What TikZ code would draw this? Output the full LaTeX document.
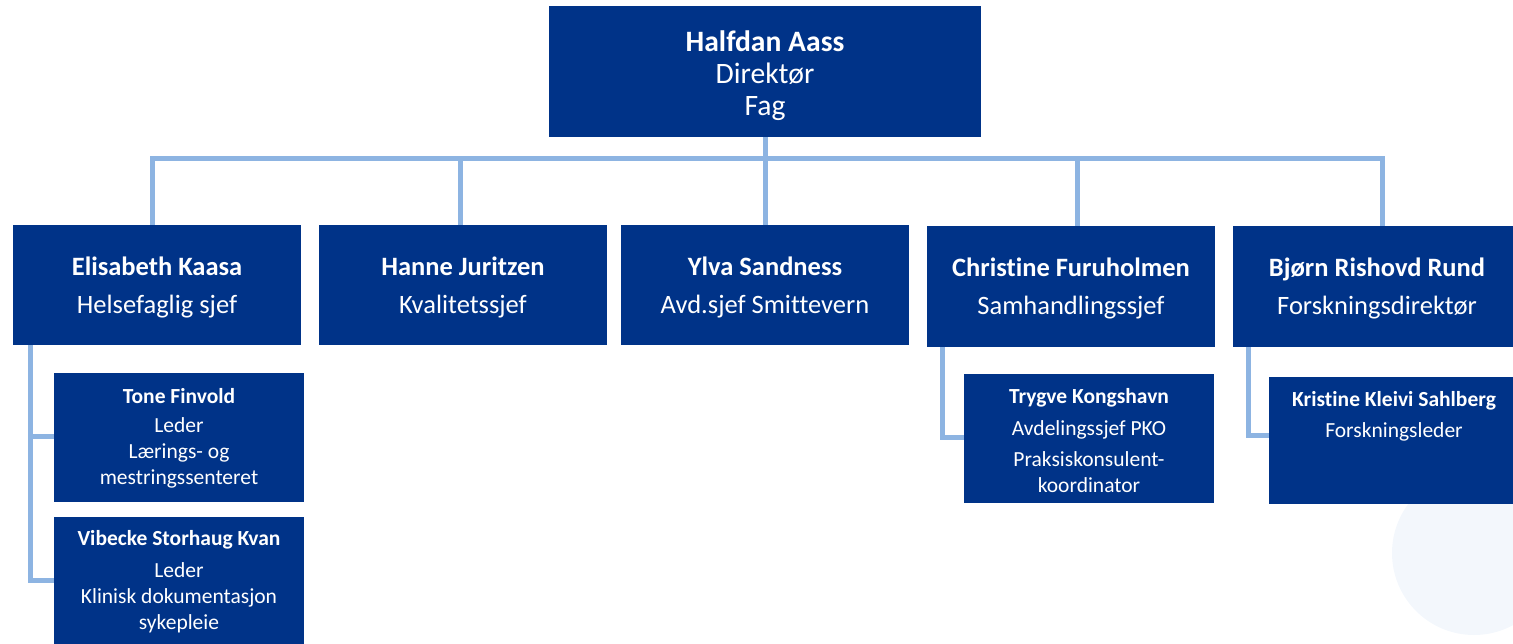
\documentclass[tikz,border=0pt]{standalone}
\usepackage{fontspec}
\setmainfont{Carlito}[Ligatures=NoCommon]
\definecolor{boxblue}{RGB}{0,51,136}
\definecolor{linkblue}{RGB}{141,180,226}
\definecolor{ghost}{RGB}{243,247,252}
\newcommand{\orglines}[1]{\begin{tabular}[t]{@{}c@{}}#1\end{tabular}}
\begin{document}
\begin{tikzpicture}[x=1pt,y=-1pt,
  orgbox/.style={rectangle, fill=boxblue, draw=none, inner sep=0pt, outer sep=0pt},
  conn/.style={draw=linkblue, line width=5pt, line join=miter},
  lbl/.style={anchor=base, inner sep=0pt, outer sep=0pt, text=white},
  toplbl/.style={lbl, font=\fontsize{29.6}{32}\selectfont},
  midlbl/.style={lbl, font=\fontsize{26.5}{38}\selectfont},
  sublbl/.style={lbl, font=\fontsize{21.5}{26}\selectfont}]
\useasboundingbox (0,0) rectangle (1513,643);
% faint background circle
\fill[ghost] (1474,553) circle[radius=82];

% boxes
\node[orgbox, minimum width=432pt, minimum height=131pt] (top) at (765,71.5) {};
\node[orgbox, minimum width=288pt, minimum height=120pt] (b1) at (157,285) {};
\node[orgbox, minimum width=288pt, minimum height=120pt] (b2) at (463,285) {};
\node[orgbox, minimum width=288pt, minimum height=120pt] (b3) at (765,285) {};
\node[orgbox, minimum width=288pt, minimum height=121pt] (b4) at (1071,286.5) {};
\node[orgbox, minimum width=288pt, minimum height=121pt] (b5) at (1377,286.5) {};
\node[orgbox, minimum width=250pt, minimum height=129pt] (s1) at (179,437.5) {};
\node[orgbox, minimum width=250pt, minimum height=128pt] (s2) at (179,581) {};
\node[orgbox, minimum width=250pt, minimum height=129pt] (s4) at (1089,438.5) {};
\node[orgbox, minimum width=250pt, minimum height=127pt] (s5) at (1394,440.5) {};

% connectors
\coordinate (bus) at (765,158);
\draw[conn] (top.south) -- (bus) -| ([xshift=-5pt]b1.north);
\draw[conn] (top.south) -- (bus) -| ([xshift=-3pt]b2.north);
\draw[conn] (top.south) -- (b3.north);
\draw[conn] (top.south) -- (bus) -| ([xshift=6pt]b4.north);
\draw[conn] (top.south) -- (bus) -| ([xshift=5pt]b5.north);
\draw[conn] ([xshift=-127pt]b1.south) |- ([yshift=1.5pt]s1.west);
\draw[conn] ([xshift=-127pt]b1.south) |- ([yshift=1pt]s2.west);
\draw[conn] ([xshift=-129pt]b4.south) |- ([yshift=1.5pt]s4.west);
\draw[conn] ([xshift=-129pt]b5.south) |- ([yshift=5.5pt]s5.west);

% redraw box faces above connector ends
\foreach \n in {top,b1,b2,b3,b4,b5,s1,s2,s4,s5}{
  \fill[boxblue] (\n.north west) rectangle (\n.south east);
}

% labels
\node[toplbl] (ttop) at (765,51) {\orglines{\bfseries Halfdan Aass\\ Direktør\\ Fag}};
\node[midlbl] (tb1) at (157,275) {\orglines{\bfseries Elisabeth Kaasa\\ Helsefaglig sjef}};
\node[midlbl] (tb2) at (463,275) {\orglines{\bfseries Hanne Juritzen\\ Kvalitetssjef}};
\node[midlbl] (tb3) at (765,275) {\orglines{\bfseries Ylva Sandness\\ Avd.sjef Smittevern}};
\node[midlbl] (tb4) at (1071,276) {\orglines{\bfseries Christine Furuholmen\\ Samhandlingssjef}};
\node[midlbl] (tb5) at (1377,276) {\orglines{\bfseries Bjørn Rishovd Rund\\ Forskningsdirektør}};
\node[sublbl] (ts1) at (179,403) {\orglines{\bfseries Tone Finvold\\[3pt] Leder\\ Lærings- og\\ mestringssenteret}};
\node[sublbl] (ts2) at (179,545) {\orglines{\bfseries Vibecke Storhaug Kvan\\[6pt] Leder\\ Klinisk dokumentasjon\\ sykepleie}};
\node[sublbl] (ts4) at (1089,403) {\orglines{\bfseries Trygve Kongshavn\\[6pt] Avdelingssjef PKO\\[5pt] Praksiskonsulent-\\ koordinator}};
\node[sublbl] (ts5) at (1394,406) {\orglines{\bfseries Kristine Kleivi Sahlberg\\[5pt] Forskningsleder}};
\end{tikzpicture}
\end{document}
